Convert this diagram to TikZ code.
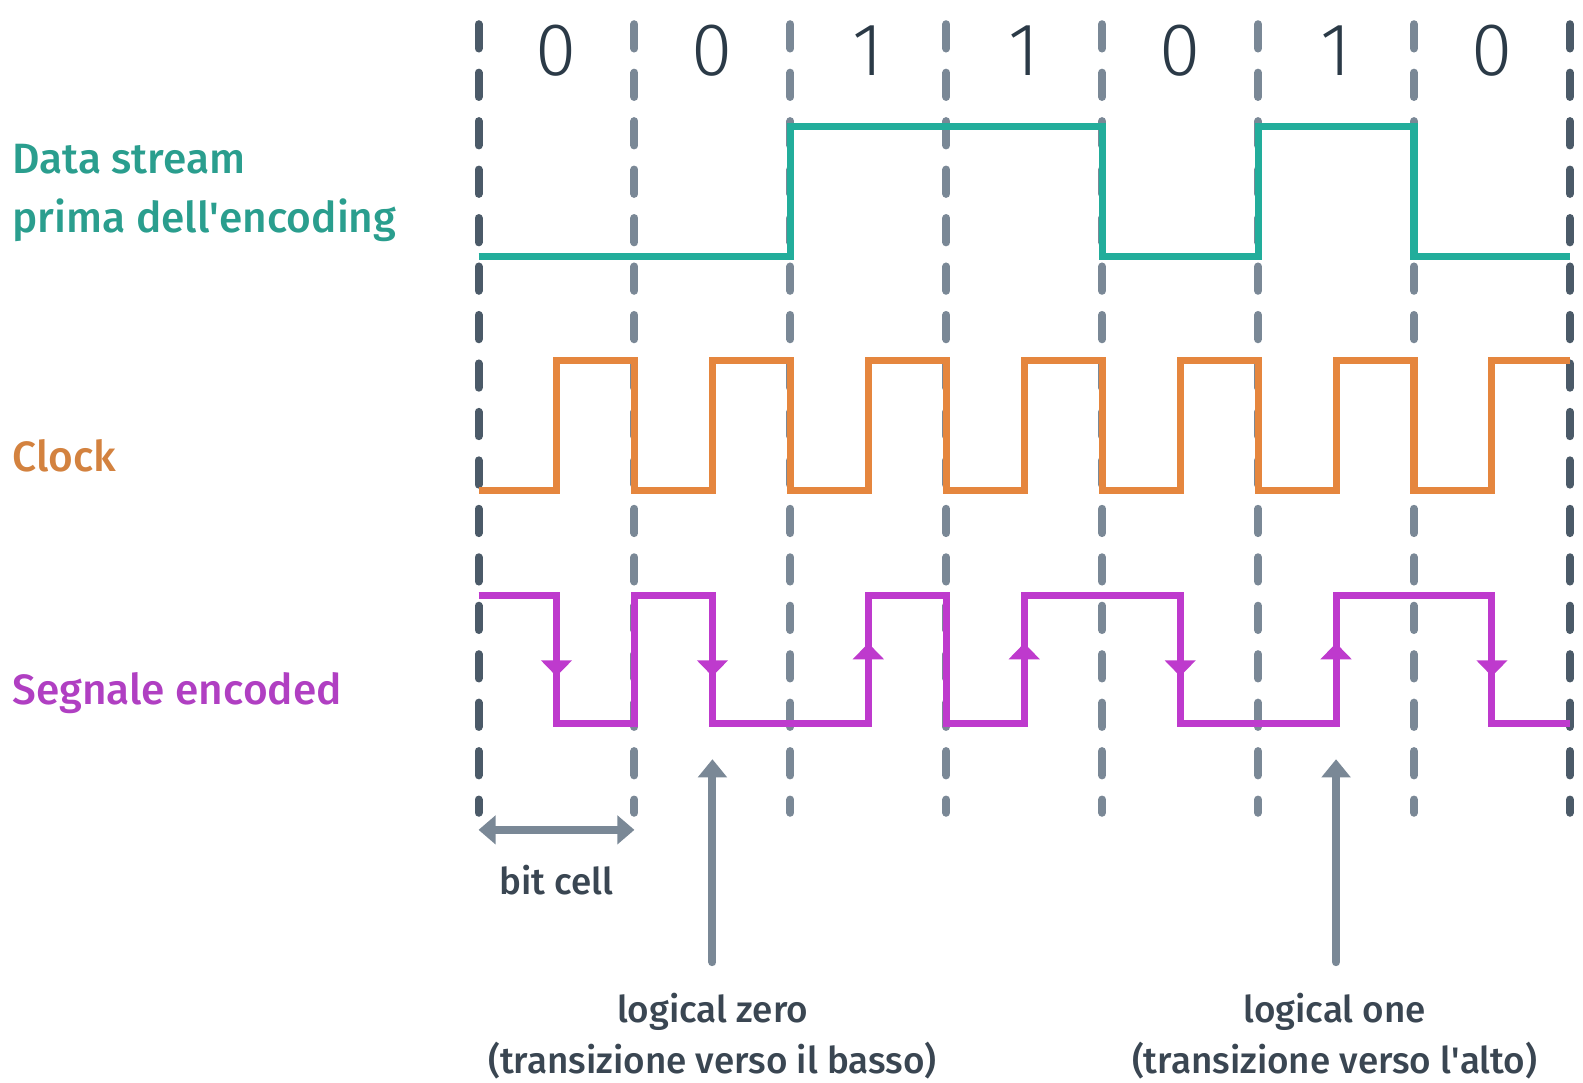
\documentclass[tikz,border=0pt]{standalone}
\usepackage{fontspec}
\setmainfont{Fira Sans}
\newfontfamily\medfont{Fira Sans Medium}
\newfontfamily\lightfont{Fira Sans Light}
\usetikzlibrary{arrows.meta}

\definecolor{datac}{HTML}{22AD9B}
\definecolor{datatxt}{HTML}{2A9E8E}
\definecolor{clockc}{HTML}{E5863E}
\definecolor{clocktxt}{HTML}{D3823F}
\definecolor{encc}{HTML}{BE3ACD}
\definecolor{enctxt}{HTML}{B03FC2}
\definecolor{gridc}{HTML}{7A8896}
\definecolor{griddark}{HTML}{4B5A68}
\definecolor{inkc}{HTML}{2B3A47}
\definecolor{notec}{HTML}{3A4652}

\tikzset{
  cellline/.style={line width=8pt, line cap=round, dash pattern=on 24pt off 24pt, draw=gridc},
  wave/.style={line width=7pt, line join=miter, line cap=butt},
  datawave/.style={wave, draw=datac},
  clockwave/.style={wave, draw=clockc},
  encwave/.style={wave, draw=encc},
  dirtip/.style={encc, line width=7pt, -{Triangle[width=30pt,length=16pt]}},
  pointer/.style={line width=8pt, draw=gridc, line cap=round},
  bitdigit/.style={font=\lightfont\fontsize{74}{80}\selectfont, text=inkc, anchor=center},
  rowlabel/.style={font=\medfont\fontsize{42}{50}\selectfont, anchor=base west, inner sep=0pt},
  note/.style={font=\medfont\fontsize{36.5}{44}\selectfont, text=notec, anchor=base, inner sep=0pt}
}

\begin{document}
\begin{tikzpicture}[x=1pt, y=-1pt]
\useasboundingbox (0,0) rectangle (1568,1072);

% bit-cell boundaries
\foreach \i/\gc in {0/griddark,1/gridc,2/gridc,3/gridc,4/gridc,5/gridc,6/gridc,7/griddark}{
  \pgfmathsetmacro{\xx}{474+154.43*\i}
  \draw[cellline, draw=\gc] (\xx,24) -- (\xx,805);
}

% bit values
\foreach \b [count=\i from 0] in {0,0,1,1,0,1,0}{
  \node[bitdigit] (bit\i) at ({474+154.43*\i+77.2},50) {\b};
}

% data stream
\draw[datawave] (474,254) -- (782.9,254) -- (782.9,125) -- (1091.7,125) -- (1091.7,254)
  -- (1246.2,254) -- (1246.2,125) -- (1400.6,125) -- (1400.6,254) -- (1555,254);

% clock
\draw[clockwave] (474,486) -- (551.2,486) -- (551.2,357) -- (628.4,357) -- (628.4,486)
  -- (705.7,486) -- (705.7,357) -- (782.9,357) -- (782.9,486)
  -- (860.1,486) -- (860.1,357) -- (937.3,357) -- (937.3,486)
  -- (1014.5,486) -- (1014.5,357) -- (1091.7,357) -- (1091.7,486)
  -- (1169.0,486) -- (1169.0,357) -- (1246.2,357) -- (1246.2,486)
  -- (1323.4,486) -- (1323.4,357) -- (1400.6,357) -- (1400.6,486)
  -- (1477.8,486) -- (1477.8,357) -- (1555,357);

% Manchester encoded signal
\draw[encwave] (474,590) -- (551.2,590) -- (551.2,717) -- (628.4,717) -- (628.4,590)
  -- (705.7,590) -- (705.7,717) -- (860.1,717) -- (860.1,590) -- (937.3,590)
  -- (937.3,717) -- (1014.5,717) -- (1014.5,590) -- (1169.0,590) -- (1169.0,717)
  -- (1323.4,717) -- (1323.4,590) -- (1477.8,590) -- (1477.8,717) -- (1555,717);

% transition direction marks
\foreach \xx in {551.2,705.7,1169.0,1477.8}
  \draw[dirtip] (\xx,600) -- (\xx,670);
\foreach \xx in {860.1,1014.5,1323.4}
  \draw[dirtip] (\xx,707) -- (\xx,637);

% row labels
\node[rowlabel, text=datatxt] (lbldata1) at (12,172) {Data stream};
\node[rowlabel, text=datatxt] (lbldata2) at (12,230) {prima dell\textquotesingle encoding};
\node[rowlabel, text=clocktxt] (lblclock) at (12,467) {Clock};
\node[rowlabel, text=enctxt] (lblenc) at (12,698) {Segnale encoded};

% bit cell width
\coordinate (cellL) at (474,822);
\coordinate (cellR) at (628.4,822);
\draw[pointer, {Triangle[width=28pt,length=17pt]}-{Triangle[width=28pt,length=17pt]}] (cellL) -- (cellR);
\node[note] (bitcell) at (551.2,886) {bit cell};

% transition pointers
\coordinate (zeroTip) at (705.7,752);
\coordinate (zeroFoot) at (705.7,953);
\coordinate (oneTip) at (1323.4,752);
\coordinate (oneFoot) at (1323.4,953);
\draw[pointer, -{Triangle[width=28pt,length=18pt]}] (zeroFoot) -- (zeroTip);
\draw[pointer, -{Triangle[width=28pt,length=18pt]}] (oneFoot) -- (oneTip);

\node[note] (zero1) at (705.7,1013) {logical zero};
\node[note] (zero2) at (705.7,1063) {(transizione verso il basso)};
\node[note] (one1) at (1322,1013) {logical one};
\node[note] (one2) at (1322,1063) {(transizione verso l\textquotesingle alto)};
\end{tikzpicture}
\end{document}
